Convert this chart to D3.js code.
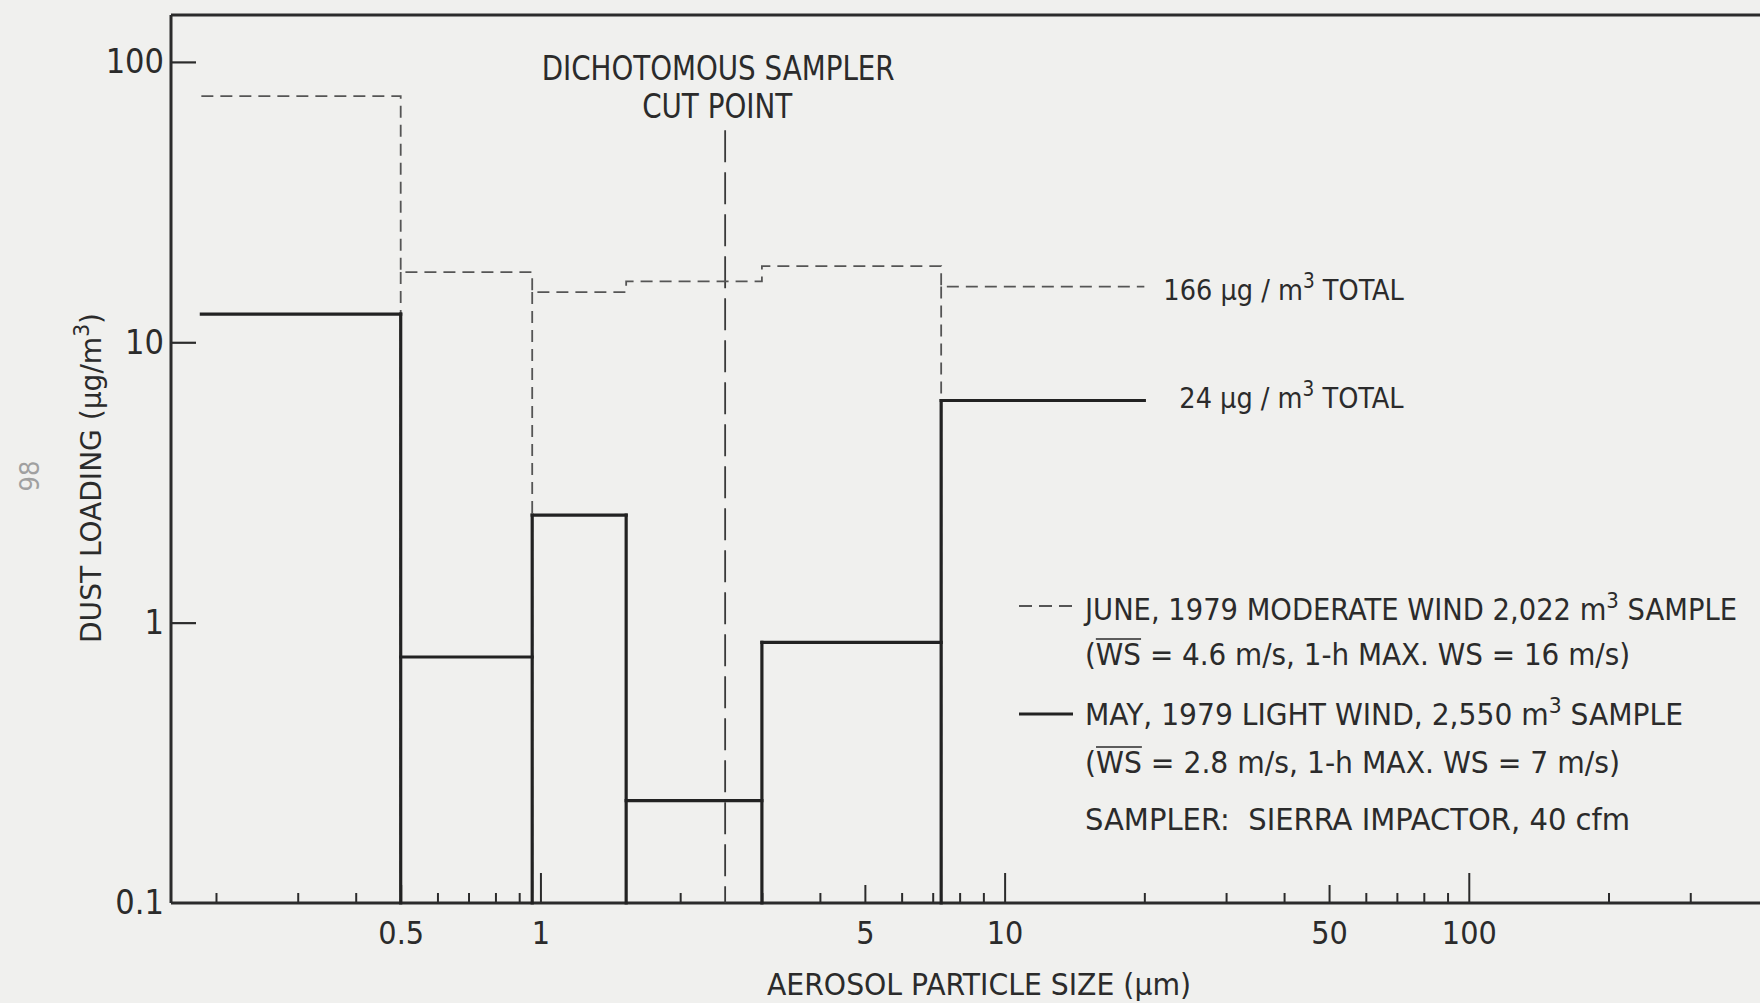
<!DOCTYPE html>
<html>
<head>
<meta charset="utf-8">
<script src="https://cdn.jsdelivr.net/npm/d3@7"></script>
<style>
  html, body { margin: 0; padding: 0; background: #f0f0ee; }
  svg { display: block; }
  text {
    font-family: "Liberation Sans Narrow", "DejaVu Sans Condensed", "Roboto Condensed", "Arial Narrow", sans-serif;
    fill: #2b2b2b;
  }
</style>
</head>
<body>
<svg id="chart" width="1760" height="1003"></svg>
<script>
// Impactor stage boundaries (µm); the last stage is closed at 20 µm
const binEdges = [0.186, 0.5, 0.96, 1.53, 3.0, 7.3, 20];
// Dust loading per stage (µg/m³)
const juneLoading = [75.5, 17.8, 15.1, 16.5, 18.7, 15.8];
const mayLoading  = [12.6, 0.754, 2.42, 0.232, 0.85, 6.2];
// Stage edges where the June outline drops all the way to the axis
const juneDropEdges = [0.5, 0.96, 7.3];
// Dichotomous sampler cut point (µm) and the top of its marker line (µg/m³)
const cutPoint = 2.5;
const cutLineTop = 57;

const yTickValues = [0.1, 1, 10, 100];
const yTickLabels = ["0.1", "1", "10", "100"];
const xDecadeTicks = [1, 10, 100];
const xHalfDecadeTicks = [0.5, 5, 50];
const xTickLabels = new Map([[0.5, "0.5"], [1, "1"], [5, "5"], [10, "10"], [50, "50"], [100, "100"]]);
const xMinorTicks = [0.2, 0.3, 0.4, 0.6, 0.7, 0.8, 0.9, 2, 3, 4, 6, 7, 8, 9,
                     20, 30, 40, 60, 70, 80, 90, 200, 300];

const ink = "#2b2b2b";
const svg = d3.select("#chart");

const x = d3.scaleLog().domain([0.16, 424]).range([171, 1760]);
const y = d3.scaleLog().domain([0.1, 147]).range([903, 15]);
const yBase = y.domain()[0];

// ---------- axes ----------
const yAxis = d3.axisLeft(y)
  .tickValues(yTickValues)
  .tickFormat((d, i) => yTickLabels[i])
  .tickSizeInner(-25).tickSizeOuter(0).tickPadding(7);
const gy = svg.append("g").attr("transform", `translate(${x.range()[0]},0)`).call(yAxis);
gy.select(".domain").remove();
gy.selectAll(".tick line").attr("stroke", ink).attr("stroke-width", 2.2);
gy.selectAll(".tick").filter(d => d === yBase).select("line").remove();
gy.selectAll(".tick text").attr("font-size", 34).attr("fill", ink)
  .attr("font-family", "'Liberation Sans Narrow','DejaVu Sans Condensed',sans-serif");

function xTickGroup(values, len, labelled) {
  const ax = d3.axisBottom(x).tickValues(values)
    .tickFormat(d => labelled ? xTickLabels.get(d) : "")
    .tickSizeInner(-len).tickSizeOuter(0).tickPadding(18);
  const g = svg.append("g").attr("transform", `translate(0,${y(yBase)})`).call(ax);
  g.select(".domain").remove();
  g.selectAll(".tick line").attr("stroke", ink).attr("stroke-width", 2);
  g.selectAll(".tick text").attr("font-size", 32).attr("fill", ink);
  return g;
}
xTickGroup(xMinorTicks, 10, false);
xTickGroup(xHalfDecadeTicks, 18, true);
xTickGroup(xDecadeTicks, 30, true);

// frame: left axis, bottom axis and the top rule
const frame = svg.append("g").attr("stroke", ink).attr("stroke-width", 3).attr("fill", "none");
frame.append("line").attr("x1", x.range()[0]).attr("x2", x.range()[0])
  .attr("y1", y.range()[1]).attr("y2", y.range()[0]);
frame.append("line").attr("x1", x.range()[0]).attr("x2", x.range()[1])
  .attr("y1", y(yBase)).attr("y2", y(yBase));
frame.append("line").attr("x1", x.range()[0]).attr("x2", x.range()[1])
  .attr("y1", y.range()[1]).attr("y2", y.range()[1]).attr("stroke-width", 3.2);

// ---------- cut point marker ----------
svg.append("line")
  .attr("x1", x(cutPoint)).attr("x2", x(cutPoint))
  .attr("y1", y(cutLineTop)).attr("y2", y(yBase))
  .attr("stroke", "#3a3a3a").attr("stroke-width", 1.8)
  .attr("stroke-dasharray", "32,10");

const cutLabel = svg.append("g").attr("font-size", 34).attr("text-anchor", "middle");
cutLabel.append("text").attr("x", x(cutPoint) - 7).attr("y", 80)
  .attr("textLength", 353).attr("lengthAdjust", "spacingAndGlyphs")
  .text("DICHOTOMOUS SAMPLER");
cutLabel.append("text").attr("x", x(cutPoint) - 8).attr("y", 118)
  .attr("textLength", 150).attr("lengthAdjust", "spacingAndGlyphs")
  .text("CUT POINT");

// ---------- June (dashed) outline ----------
function stepPath(values) {
  const p = d3.path();
  values.forEach((v, i) => {
    if (i === 0) p.moveTo(x(binEdges[0]), y(v));
    else p.lineTo(x(binEdges[i]), y(v));
    p.lineTo(x(binEdges[i + 1]), y(v));
  });
  return p.toString();
}
const juneG = svg.append("g").attr("fill", "none").attr("stroke", "#555")
  .attr("stroke-width", 1.8).attr("stroke-dasharray", "12,7");
juneG.append("path").attr("d", stepPath(juneLoading));
juneDropEdges.forEach(e => {
  const i = binEdges.indexOf(e);
  const top = Math.min(juneLoading[i - 1], juneLoading[i]);
  juneG.append("line").attr("x1", x(e)).attr("x2", x(e))
    .attr("y1", y(top)).attr("y2", y(yBase));
});

// ---------- May (solid) histogram ----------
const mayG = svg.append("g").attr("fill", "none").attr("stroke", "#222")
  .attr("stroke-width", 3.2).attr("stroke-linecap", "square");
mayLoading.forEach((v, i) => {
  mayG.append("line").attr("x1", x(binEdges[i])).attr("x2", x(binEdges[i + 1]))
    .attr("y1", y(v)).attr("y2", y(v));
});
binEdges.slice(1, -1).forEach((e, k) => {
  const top = Math.max(mayLoading[k], mayLoading[k + 1]);
  mayG.append("line").attr("x1", x(e)).attr("x2", x(e))
    .attr("y1", y(top)).attr("y2", y(yBase));
});

// ---------- helper for text with an m³ superscript ----------
function richText(parent, parts, attrs) {
  const t = parent.append("text");
  Object.entries(attrs).forEach(([k, v]) => t.attr(k, v));
  let shifted = false;
  parts.forEach(p => {
    if (p.sup) {
      t.append("tspan").attr("dy", -12).attr("font-size", "0.72em").text(p.sup);
      shifted = true;
    } else {
      const s = t.append("tspan").text(p.t);
      if (shifted) { s.attr("dy", 12); shifted = false; }
    }
  });
  return t;
}

// totals at the end of each outline
const lastEdge = binEdges[binEdges.length - 1];
richText(svg, [{t: "166 µg / m"}, {sup: "3"}, {t: " TOTAL"}],
  {x: x(lastEdge) + 19, y: y(juneLoading[juneLoading.length - 1]) + 13,
   "font-size": 28.5});
richText(svg, [{t: "24 µg / m"}, {sup: "3"}, {t: " TOTAL"}],
  {x: x(lastEdge) + 35, y: y(mayLoading[mayLoading.length - 1]) + 8,
   "font-size": 28.5});

// ---------- legend ----------
const legend = svg.append("g").attr("font-size", 30);
const lx = 1085;
legend.append("line").attr("x1", 1019).attr("x2", 1073).attr("y1", 606).attr("y2", 606)
  .attr("stroke", "#555").attr("stroke-width", 1.8).attr("stroke-dasharray", "13,7");
legend.append("line").attr("x1", 1019).attr("x2", 1073).attr("y1", 714).attr("y2", 714)
  .attr("stroke", "#222").attr("stroke-width", 3.2);

richText(legend, [{t: "JUNE, 1979 MODERATE WIND 2,022 m"}, {sup: "3"}, {t: " SAMPLE"}],
  {x: lx, y: 620, textLength: 652, lengthAdjust: "spacingAndGlyphs"});
const ws1 = legend.append("text").attr("x", lx).attr("y", 665)
  .attr("textLength", 545).attr("lengthAdjust", "spacingAndGlyphs")
  .text("(WS = 4.6 m/s, 1-h MAX. WS = 16 m/s)");
richText(legend, [{t: "MAY, 1979 LIGHT WIND, 2,550 m"}, {sup: "3"}, {t: " SAMPLE"}],
  {x: lx, y: 725, textLength: 598, lengthAdjust: "spacingAndGlyphs"});
const ws2 = legend.append("text").attr("x", lx).attr("y", 773)
  .attr("textLength", 535).attr("lengthAdjust", "spacingAndGlyphs")
  .text("(WS = 2.8 m/s, 1-h MAX. WS = 7 m/s)");
legend.append("text").attr("x", lx).attr("y", 830)
  .attr("textLength", 545).attr("lengthAdjust", "spacingAndGlyphs")
  .attr("xml:space", "preserve")
  .text("SAMPLER:  SIERRA IMPACTOR, 40 cfm");

// bar over the mean wind speed symbol
[ws1, ws2].forEach(t => {
  const n = t.node();
  const x0 = n.getStartPositionOfChar(1).x;
  const x1 = n.getEndPositionOfChar(2).x;
  const yb = +t.attr("y") - 26;
  legend.append("line").attr("x1", x0).attr("x2", x1).attr("y1", yb).attr("y2", yb)
    .attr("stroke", ink).attr("stroke-width", 1.5);
});

// ---------- axis titles ----------
svg.append("text").attr("x", 979).attr("y", 995).attr("text-anchor", "middle")
  .attr("font-size", 31).attr("textLength", 424).attr("lengthAdjust", "spacingAndGlyphs")
  .text("AEROSOL PARTICLE SIZE (µm)");

const yTitle = svg.append("g").attr("transform", "translate(101,478) rotate(-90)");
richText(yTitle, [{t: "DUST LOADING (µg/m"}, {sup: "3"}, {t: ")"}],
  {x: 0, y: 0, "text-anchor": "middle", "font-size": 29,
   textLength: 330, lengthAdjust: "spacingAndGlyphs"});

// page number in the margin
svg.append("text").attr("transform", "translate(39,476) rotate(-90)")
  .attr("text-anchor", "middle").attr("font-size", 27)
  .style("fill", "#a0a0a0").text("98");
</script>
</body>
</html>
